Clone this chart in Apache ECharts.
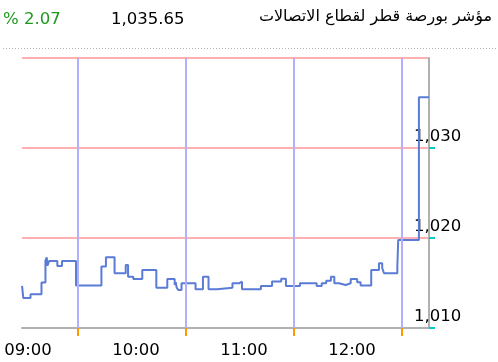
<!DOCTYPE html>
<html><head><meta charset="utf-8">
<script src="https://cdn.jsdelivr.net/npm/echarts@6/dist/echarts.min.js"></script>
<style>html,body{margin:0;padding:0;background:#fff}#c{width:498px;height:362px}</style>
</head><body><div id="c"></div>
<script>
const TITLE = 'مؤشر بورصة قطر لقطاع الاتصالات';
const LAST_VALUE = '1,035.65';
const CHANGE = '% 2.07';
// minutes after 09:00
const X_LABEL_VALUES = [0, 60, 120, 180];
const X_LABELS = ['09:00', '10:00', '11:00', '12:00'];
const X_GRID_VALUES = [27.8, 87.8, 147.8, 207.8];
const X_MIN = -3.33, X_MAX = 222.8;
const Y_MIN = 1010, Y_MAX = 1040, Y_STEP = 10;
const TIMES = [-3.3, -2.6, 1.4, 7.5, 9.7, 10.4, 10.8, 11.7, 16.3, 18.9, 26.7, 40.8, 43.3, 48.1, 54.3, 55.6, 58.5, 63.5, 71.3, 77.4, 81.5, 82.1, 82.6, 83.6, 85.3, 93.1, 97.2, 100.3, 105.0, 113.6, 117.2, 118.9, 129.4, 135.6, 140.7, 143.3, 151.1, 160.4, 163.2, 165.7, 168.3, 170.2, 172.8, 176.5, 179.3, 182.9, 184.8, 190.7, 195.0, 196.8, 197.8, 205.2, 205.7, 217.2, 222.8];
const VALUES = [1014.67, 1013.33, 1013.74, 1015.06, 1017.5, 1017.86, 1016.94, 1017.44, 1016.9, 1017.44, 1014.72, 1016.83, 1017.86, 1016.08, 1017.0, 1015.7, 1015.44, 1016.44, 1014.48, 1015.44, 1014.78, 1015.1, 1014.48, 1014.22, 1014.97, 1014.3, 1015.7, 1014.3, 1014.48, 1014.97, 1015.14, 1014.3, 1014.67, 1015.17, 1015.48, 1014.67, 1014.97, 1014.67, 1014.97, 1015.26, 1015.7, 1014.97, 1014.78, 1014.97, 1015.44, 1015.08, 1014.72, 1016.44, 1017.19, 1016.67, 1016.08, 1016.81, 1019.78, 1035.63, 1035.63];

const FONT = 'DejaVu Sans';
const chart = echarts.init(document.getElementById('c'), null, {renderer: 'canvas'});
const data = TIMES.map((t, i) => [t, VALUES[i]]);
chart.setOption({
  animation: false,
  grid: {left: 22, right: 69, top: 58, bottom: 34, containLabel: false, show: false, borderWidth: 0},
  graphic: [
    {type: 'line', shape: {x1: 3, y1: 48.5, x2: 498, y2: 48.5}, style: {stroke: '#b5b5b5', lineWidth: 1, lineDash: [1, 2]}},
    {type: 'text', left: 3, top: 11, style: {text: CHANGE, font: '16.5px "' + FONT + '"', fill: '#1f9a1f'}},
    {type: 'text', left: 111, top: 11, style: {text: LAST_VALUE, font: '16.5px "' + FONT + '"', fill: '#000'}},
    {type: 'text', right: 6, top: 9, style: {text: TITLE, font: '16px "' + FONT + '"', fill: '#000'}}
  ],
  xAxis: {
    type: 'value', min: X_MIN, max: X_MAX,
    axisLine: {show: true, onZero: false, lineStyle: {color: '#b0b0b0', width: 2}},
    axisTick: {show: true, customValues: X_GRID_VALUES, length: 8, lineStyle: {color: '#ff9900', width: 2}},
    axisLabel: {customValues: X_LABEL_VALUES, margin: 14, color: '#000', fontFamily: FONT, fontSize: 16.5,
      formatter: v => X_LABELS[X_LABEL_VALUES.indexOf(Math.round(v))] || ''},
    splitLine: {show: false}
  },
  yAxis: {
    type: 'value', position: 'right', min: Y_MIN, max: Y_MAX, interval: Y_STEP,
    axisLine: {show: true, onZero: false, lineStyle: {color: '#b0b0b0', width: 2}},
    axisTick: {show: true, length: 6, lineStyle: {color: '#00cccc', width: 2}},
    axisLabel: {showMaxLabel: false, margin: -15, align: 'left', verticalAlign: 'bottom', padding: [0, 0, 3, 0],
      color: '#000', fontFamily: FONT, fontSize: 16.5,
      formatter: v => v.toLocaleString('en-US')},
    splitLine: {show: true, lineStyle: {color: '#ffb0b0', width: 2}}
  },
  series: [{
    type: 'line', data: [], z: 1, silent: true,
    markLine: {
      silent: true, symbol: ['none', 'none'], label: {show: false},
      lineStyle: {color: '#b0b0ff', width: 2, type: 'solid'},
      data: X_GRID_VALUES.map(v => ({xAxis: v}))
    }
  }, {
    type: 'line', step: 'end', data: data, showSymbol: false, symbol: 'none',
    lineStyle: {color: '#5a7bd6', width: 2}, z: 3
  }]
});
</script></body></html>
